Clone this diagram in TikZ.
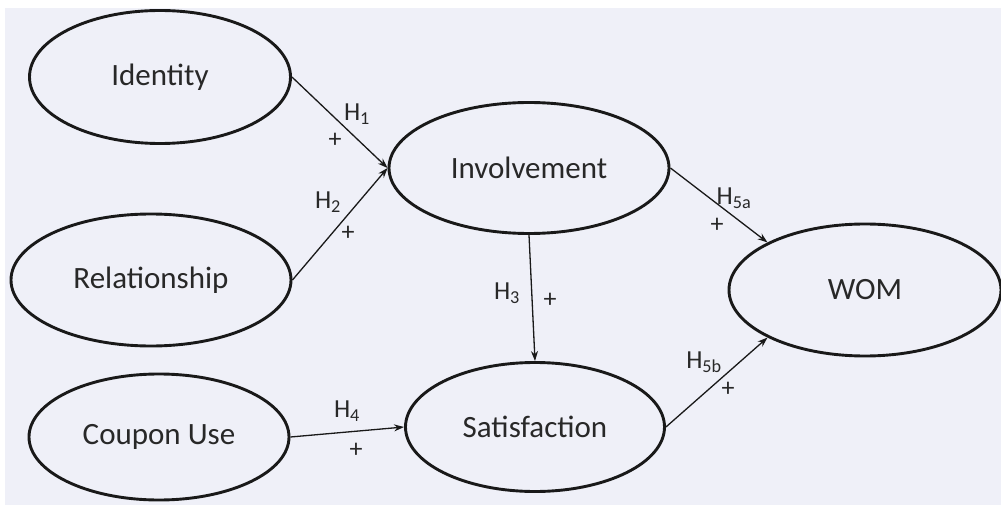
\documentclass[tikz,border=0pt]{standalone}
\usepackage{fontspec}
\setmainfont{Carlito}
\usetikzlibrary{shapes.geometric,arrows.meta}
\definecolor{bg}{RGB}{239,240,248}
\definecolor{ink}{RGB}{25,25,25}
\definecolor{txt}{RGB}{40,40,40}
\begin{document}
\begin{tikzpicture}[x=1pt,y=-1pt,
  latent/.style={ellipse, draw=ink, line width=2.9pt, inner sep=0pt, text=txt,
    font=\fontsize{31}{34}\selectfont},
  pathline/.style={draw=ink, line width=1.3pt, -{Stealth[length=10pt,width=7pt]}},
  hlab/.style={text=txt, font=\fontsize{26}{29}\selectfont, inner sep=0pt}]
\fill[white] (0,0) rectangle (1001,505);
\fill[bg] (5,8) rectangle (1001,505);
\useasboundingbox (0,0) rectangle (1001,505);
\node[latent, minimum width=261pt, minimum height=133pt] (ident) at (160,77) {Identity};
\node[latent, minimum width=280pt, minimum height=132pt] (rel) at (151,280) {Relationship};
\node[latent, minimum width=260pt, minimum height=126pt] (coup) at (159,437) {Coupon Use};
\node[latent, minimum width=280pt, minimum height=131pt] (inv) at (529,168) {Involvement};
\node[latent, minimum width=259pt, minimum height=129pt] (sat) at (535,427) {Satisfaction};
\node[latent, minimum width=272pt, minimum height=132pt] (wom) at (865,290) {WOM};
\draw[pathline] (ident.east) -- (inv.west);
\draw[pathline] (rel.east) -- (inv.west);
\draw[pathline] (inv.south) -- (sat.north);
\draw[pathline] (coup.east) -- (sat.west);
\draw[pathline] (inv.east) -- (wom.154);
\draw[pathline] (sat.east) -- (wom.206);
\node[hlab] (h1) at (357,114) {H\textsubscript{1}};
\node[hlab] (p1) at (335,140) {+};
\node[hlab] (h2) at (328,202) {H\textsubscript{2}};
\node[hlab] (p2) at (348,233) {+};
\node[hlab] (h3) at (507,293) {H\textsubscript{3}};
\node[hlab] (p3) at (550,300) {+};
\node[hlab] (h4) at (347,411) {H\textsubscript{4}};
\node[hlab] (p4) at (356,450) {+};
\node[hlab] (h5a) at (734,198) {H\textsubscript{5a}};
\node[hlab] (p5a) at (717,225) {+};
\node[hlab] (h5b) at (704,362) {H\textsubscript{5b}};
\node[hlab] (p5b) at (728,389) {+};
\end{tikzpicture}
\end{document}
